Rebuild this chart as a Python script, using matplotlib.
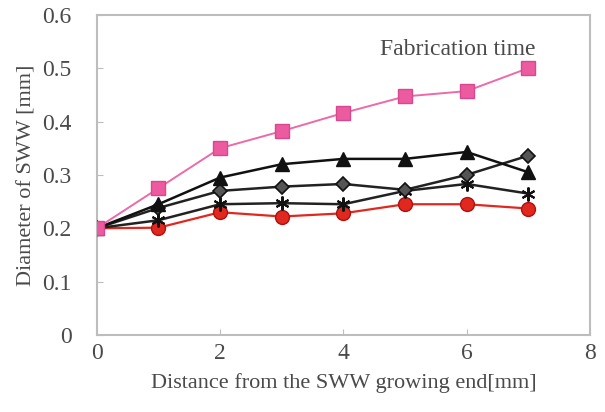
import matplotlib
matplotlib.use("Agg")
import matplotlib.pyplot as plt

# distance from growing end [mm]
dist = [0, 1, 2, 3, 4, 5, 6, 7]

# diameter of SWW [mm] for each fabrication time
d_square = [0.200, 0.275, 0.350, 0.382, 0.416, 0.447, 0.457, 0.500]
d_triangle = [0.200, 0.245, 0.295, 0.320, 0.330, 0.330, 0.343, 0.305]
d_diamond = [0.200, 0.238, 0.270, 0.278, 0.283, 0.272, 0.300, 0.336]
d_star = [0.200, 0.215, 0.245, 0.247, 0.245, 0.270, 0.283, 0.265]
d_circle = [0.200, 0.201, 0.230, 0.222, 0.228, 0.245, 0.245, 0.237]

xticks = [0, 2, 4, 6, 8]
yticks = [0, 0.1, 0.2, 0.3, 0.4, 0.5, 0.6]
ytick_labels = ["0", "0.1", "0.2", "0.3", "0.4", "0.5", "0.6"]

plt.rcParams['font.family'] = ['Liberation Serif', 'DejaVu Serif']
txt = '#4a4a4a'
edge = '#bdbdbd'

fig = plt.figure(figsize=(6.05, 4.12), dpi=100)
ax = fig.add_axes([0.160, 0.187, 0.815, 0.777])

ax.plot(dist, d_circle, color='#e0281e', lw=1.6, marker='o', ms=10,
        mfc='#e0281e', mec='#b01010', zorder=3)
ax.plot(dist, d_star, color='#222222', lw=1.8, marker=(6, 2, 0), ms=10,
        mec='#111111', mew=1.5, zorder=3)
ax.plot(dist, d_diamond, color='#222222', lw=1.8, marker='D', ms=7,
        mfc='#555555', mec='#111111', mew=1.2, zorder=3)
ax.plot(dist, d_triangle, color='#111111', lw=1.8, marker='^', ms=10,
        mfc='#111111', mec='#111111', zorder=3)
ax.plot(dist, d_square, color='#ec6aa8', lw=1.4, marker='s', ms=10,
        mfc='#ec5aa0', mec='#d8488e', zorder=4)

ax.set_xlim(0, 8)
ax.set_ylim(0, 0.6)
ax.set_xticks(xticks)
ax.set_yticks(yticks)
ax.set_yticklabels(ytick_labels)
ax.tick_params(direction='in', length=4, color=edge, labelcolor=txt,
               labelsize=17)
ax.tick_params(axis='x', pad=6)
ax.tick_params(axis='y', pad=18)
for s in ax.spines.values():
    s.set_color(edge)
    s.set_linewidth(1.5)

ax.set_xlabel('Distance from the SWW growing end[mm]', fontsize=16,
              color=txt, labelpad=6)
ax.set_ylabel('Diameter of SWW [mm]', fontsize=16, color=txt, labelpad=4)
ax.text(4.6, 0.535, 'Fabrication time', fontsize=17, color=txt,
        ha='left', va='center')

fig.savefig('out.png', dpi=100)
